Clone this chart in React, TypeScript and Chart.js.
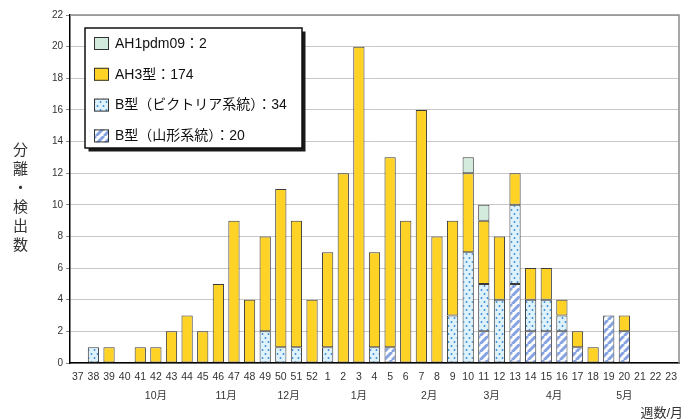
import React, { useEffect, useRef } from 'react';
import { Chart, registerables } from 'chart.js';

Chart.register(...registerables);

// ---- data ----
const weeks = ['37','38','39','40','41','42','43','44','45','46','47','48','49','50','51','52',
  '1','2','3','4','5','6','7','8','9','10','11','12','13','14','15','16','17','18','19','20','21','22','23'];

const ah1pdm = [0,0,0,0,0,0,0,0,0,0,0,0,0,0,0,0, 0,0,0,0,0,0,0,0,0,1,1,0,0,0,0,0,0,0,0,0,0,0,0];
const ah3 =    [0,0,1,0,1,1,2,3,2,5,9,4,6,10,8,4, 6,12,20,6,12,9,16,8,6,5,4,4,2,2,2,1,1,1,0,1,0,0,0];
const bVic =   [0,1,0,0,0,0,0,0,0,0,0,0,2,1,1,0, 1,0,0,1,0,0,0,0,3,7,3,4,5,2,2,1,0,0,0,0,0,0,0];
const bYam =   [0,0,0,0,0,0,0,0,0,0,0,0,0,0,0,0, 0,0,0,0,1,0,0,0,0,0,2,0,5,2,2,2,1,0,3,2,0,0,0];

const seriesLabels = ['AH1pdm09：2', 'AH3型：174', 'B型（ビクトリア系統）：34', 'B型（山形系統）：20'];

const monthLabels = ['10月', '11月', '12月', '1月', '2月', '3月', '4月', '5月'];
const monthAt = [5, 9.5, 13.5, 18, 22.5, 26.5, 30.5, 35];

const yMax = 22;
const yStep = 2;
const yTitleChars = ['分', '離', '・', '検', '出', '数'];
const xTitle = '週数/月';

const FONT = '"Liberation Sans", "Noto Sans CJK JP", sans-serif';

function makeDots(): CanvasPattern | string {
  const c = document.createElement('canvas');
  c.width = 6; c.height = 8;
  const g = c.getContext('2d');
  if (!g) return '#def2fb';
  g.fillStyle = '#def2fb';
  g.fillRect(0, 0, 6, 8);
  g.fillStyle = '#3b8ad6';
  [[1.5, 2], [4.5, 6]].forEach(([x, y]) => {
    g.beginPath(); g.arc(x, y, 0.95, 0, Math.PI * 2); g.fill();
  });
  return g.createPattern(c, 'repeat') || '#def2fb';
}

function makeStripes(): CanvasPattern | string {
  const s = 8;
  const c = document.createElement('canvas');
  c.width = s; c.height = s;
  const g = c.getContext('2d');
  if (!g) return '#ffffff';
  g.fillStyle = '#ffffff';
  g.fillRect(0, 0, s, s);
  g.strokeStyle = '#85a3e2';
  g.lineWidth = 3;
  for (const o of [-s, 0, s]) {
    g.beginPath(); g.moveTo(o, s); g.lineTo(o + s, 0); g.stroke();
  }
  return g.createPattern(c, 'repeat') || '#ffffff';
}

const framePlugin = {
  id: 'frameAndTitles',
  afterDraw(chart: any) {
    const { ctx, chartArea: ca } = chart;
    ctx.save();
    // top & right frame
    ctx.strokeStyle = '#8c8c8c';
    ctx.lineWidth = 1.5;
    ctx.beginPath();
    ctx.moveTo(ca.left, ca.top);
    ctx.lineTo(ca.right, ca.top);
    ctx.lineTo(ca.right, ca.bottom);
    ctx.stroke();

    // vertical y title
    ctx.fillStyle = '#333';
    ctx.font = '15px "Noto Sans CJK JP", sans-serif';
    ctx.textAlign = 'center';
    ctx.textBaseline = 'middle';
    const step = 19;
    const cy = (ca.top + ca.bottom) / 2 + 7.5;
    const start = cy - (step * (yTitleChars.length - 1)) / 2;
    yTitleChars.forEach((ch, i) => ctx.fillText(ch, 20.5, start + i * step));

    // x title (bottom right)
    ctx.font = '13px ' + FONT;
    ctx.textAlign = 'right';
    ctx.fillText(xTitle, ca.right + 4, chart.height - 6);

    // legend box
    const x0 = ca.left + 15, y0 = ca.top + 13, w = 217, h = 120;
    ctx.fillStyle = '#1a1a1a';
    ctx.fillRect(x0 + 3.5, y0 + 3.5, w, h);
    ctx.fillStyle = '#ffffff';
    ctx.fillRect(x0, y0, w, h);
    ctx.strokeStyle = '#111';
    ctx.lineWidth = 1.5;
    ctx.strokeRect(x0, y0, w, h);

    const ds = chart.data.datasets.slice().reverse();
    ctx.font = '14px ' + FONT;
    ctx.textAlign = 'left';
    ds.forEach((d: any, i: number) => {
      const yc = y0 + 15.5 + i * 30.8;
      ctx.fillStyle = d.backgroundColor;
      ctx.fillRect(x0 + 9, yc - 6.5, 15, 13);
      ctx.strokeStyle = '#333';
      ctx.lineWidth = 1;
      ctx.strokeRect(x0 + 9.5, yc - 6, 14, 12);
      ctx.fillStyle = '#111';
      ctx.fillText(d.label, x0 + 30, yc + 0.5);
    });
    ctx.restore();
  },
};

export default function App() {
  const ref = useRef<HTMLCanvasElement | null>(null);

  useEffect(() => {
    if (!ref.current) return;
    const dots = makeDots();
    const stripes = makeStripes();
    const common = {
      borderColor: '#3a3a3a',
      borderWidth: 1,
      borderSkipped: false as const,
      barPercentage: 0.72,
      categoryPercentage: 1,
    };
    const chart = new Chart(ref.current, {
      type: 'bar',
      data: {
        labels: weeks,
        datasets: [
          { label: seriesLabels[3], data: bYam, backgroundColor: stripes as any, ...common },
          { label: seriesLabels[2], data: bVic, backgroundColor: dots as any, ...common },
          { label: seriesLabels[1], data: ah3, backgroundColor: '#FFD326', ...common },
          { label: seriesLabels[0], data: ah1pdm, backgroundColor: '#D3EBDC', ...common },
        ],
      },
      options: {
        animation: false,
        responsive: true,
        maintainAspectRatio: false,
        layout: { padding: { top: 15, right: 13, left: 0, bottom: 0 } },
        plugins: {
          legend: { display: false },
          tooltip: { enabled: false },
        },
        scales: {
          x: {
            type: 'category',
            stacked: true,
            weight: 0,
            afterFit: (s: any) => { s.height = 22; },
            grid: { display: false, drawTicks: false },
            border: { display: true, color: '#000', width: 1.5 },
            ticks: {
              autoSkip: false,
              maxRotation: 0,
              minRotation: 0,
              padding: 8,
              color: '#333',
              font: { size: 10.5, family: FONT },
            },
          },
          x2: {
            type: 'linear',
            position: 'bottom',
            weight: 1,
            offset: false,
            min: -0.5,
            max: weeks.length - 0.5,
            afterFit: (s: any) => { s.height = 34; },
            afterBuildTicks: (s: any) => { s.ticks = monthAt.map((v) => ({ value: v })); },
            grid: { display: false, drawTicks: false, offset: false },
            border: { display: false },
            ticks: {
              autoSkip: false,
              maxRotation: 0,
              minRotation: 0,
              padding: 5,
              color: '#333',
              font: { size: 10.5, family: FONT },
              callback: (_v: any, i: number) => monthLabels[i],
            },
          } as any,
          y: {
            stacked: true,
            min: 0,
            max: yMax,
            afterFit: (s: any) => { s.width = 70; },
            grid: { color: '#c8c8c8', lineWidth: 1, tickLength: 4, tickColor: '#888' },
            border: { display: true, color: '#000', width: 1.5 },
            ticks: {
              stepSize: yStep,
              padding: 3,
              color: '#333',
              font: { size: 10, family: FONT },
            },
          },
        },
      },
      plugins: [framePlugin],
    });
    return () => chart.destroy();
  }, []);

  return (
    <div style={{ position: 'absolute', left: 0, top: 0, width: 692, height: 419, background: '#fff' }}>
      <canvas ref={ref} />
    </div>
  );
}
